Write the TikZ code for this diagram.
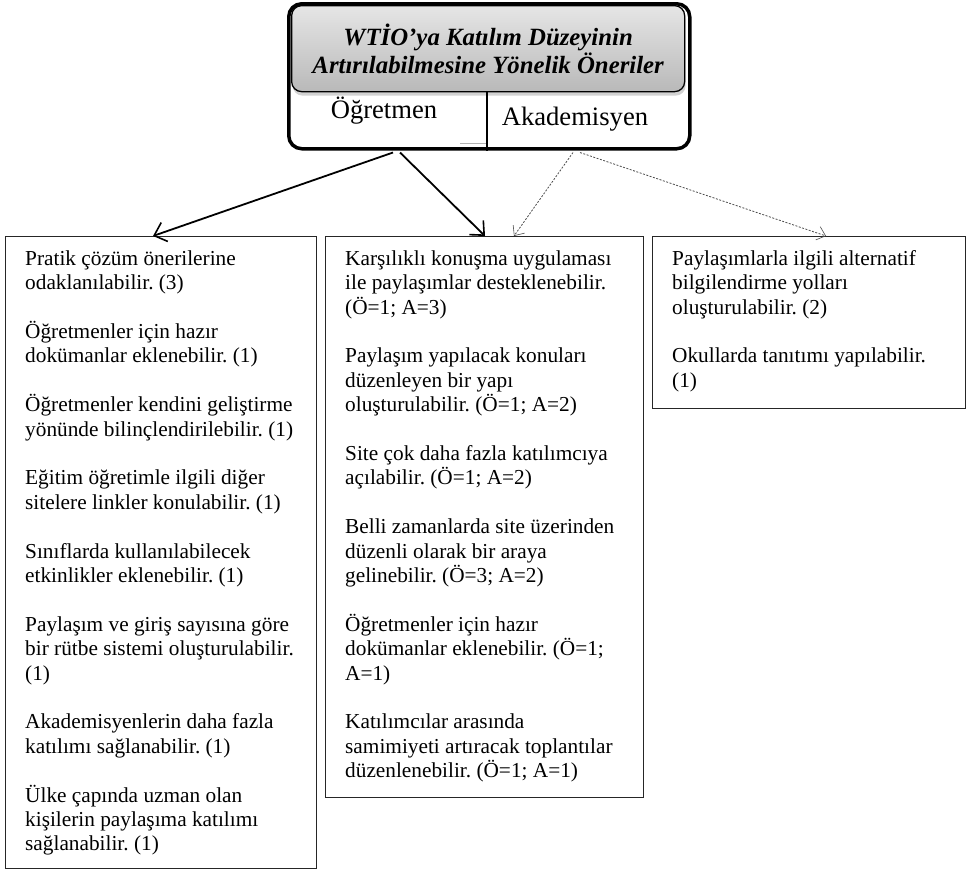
\documentclass[tikz,border=0pt]{standalone}
\usepackage{fontspec}
\setmainfont{Liberation Serif}
\usetikzlibrary{arrows.meta,shadows,calc}
\frenchspacing
\begin{document}
\begin{tikzpicture}[x=1pt,y=-1pt,
  box/.style={draw=black!85, line width=1pt, rectangle, anchor=north west, inner sep=0pt},
  body/.style={anchor=north west, inner sep=0pt, align=left, font=\frenchspacing\fontsize{21.3}{24.4}\selectfont},
  solidarr/.style={line width=1.8pt, -{Straight Barb[length=11pt,width=20pt,line width=1.6pt]}},
  dotarr/.style={line width=0.8pt, draw=gray!60!black, dash pattern=on 2pt off 1.5pt, -{Straight Barb[length=8pt,width=14pt,line width=0.6pt]}},
  labeltxt/.style={anchor=base, inner sep=0pt, font=\fontsize{26.6}{30}\selectfont}
]
\useasboundingbox (0,0) rectangle (974,871);

% header
\node[draw, line width=3.5pt, rounded corners=13pt, minimum width=401pt, minimum height=145pt,
      anchor=north west, inner sep=0pt] (hdr) at (287,2) {};
\node[draw, line width=1.3pt, rounded corners=10pt, top color=gray!20, bottom color=gray!55,
      drop shadow={shadow xshift=1pt, shadow yshift=-4pt, fill=gray!70},
      minimum width=393pt, minimum height=86pt, anchor=north west, inner sep=0pt, align=center,
      font=\bfseries\itshape\fontsize{24.8}{28.5}\selectfont] (title) at (291,5)
      {WTİO’ya Katılım Düzeyinin\\Artırılabilmesine Yönelik Öneriler};
\coordinate (div) at (487,0);
\draw[line width=1.3pt] (title.south -| div) -- (hdr.south -| div);
\draw[gray!60, line width=1pt] (460,143) -- (486,143);
\node[labeltxt] (ogr) at (384,118.6) {Öğretmen};
\node[labeltxt] (aka) at (575,125) {Akademisyen};

% boxes
\node[box, minimum width=311pt, minimum height=632pt] (b1) at (5,236) {};
\node[box, minimum width=318pt, minimum height=561pt] (b2) at (325,236) {};
\node[box, minimum width=313pt, minimum height=172pt] (b3) at (652,236) {};

\node[body] (t1) at (25,248) {\strut Pratik çözüm önerilerine\\odaklanılabilir. (3)\\[24.4pt]
Öğretmenler için hazır\\dokümanlar eklenebilir. (1)\\[24.4pt]
Öğretmenler kendini geliştirme\\yönünde bilinçlendirilebilir. (1)\\[24.4pt]
Eğitim öğretimle ilgili diğer\\sitelere linkler konulabilir. (1)\\[24.4pt]
Sınıflarda kullanılabilecek\\etkinlikler eklenebilir. (1)\\[24.4pt]
Paylaşım ve giriş sayısına göre\\bir rütbe sistemi oluşturulabilir.\\(1)\\[24.4pt]
Akademisyenlerin daha fazla\\katılımı sağlanabilir. (1)\\[24.4pt]
Ülke çapında uzman olan\\kişilerin paylaşıma katılımı\\sağlanabilir. (1)};

\node[body] (t2) at (345,248) {\strut Karşılıklı konuşma uygulaması\\ile paylaşımlar desteklenebilir.\\(Ö=1; A=3)\\[24.4pt]
Paylaşım yapılacak konuları\\düzenleyen bir yapı\\oluşturulabilir. (Ö=1; A=2)\\[24.4pt]
Site çok daha fazla katılımcıya\\açılabilir. (Ö=1; A=2)\\[24.4pt]
Belli zamanlarda site üzerinden\\düzenli olarak bir araya\\gelinebilir. (Ö=3; A=2)\\[24.4pt]
Öğretmenler için hazır\\dokümanlar eklenebilir. (Ö=1;\\A=1)\\[24.4pt]
Katılımcılar arasında\\samimiyeti artıracak toplantılar\\düzenlenebilir. (Ö=1; A=1)};

\node[body] (t3) at (672,248) {\strut Paylaşımlarla ilgili alternatif\\bilgilendirme yolları\\oluşturulabilir. (2)\\[24.4pt]
Okullarda tanıtımı yapılabilir.\\(1)};

% arrows
\draw[solidarr] ($(hdr.south west)+(106,2)$) -- ($(b1.north west)+(148,0)$);
\draw[solidarr] ($(hdr.south west)+(113,2)$) -- ($(b2.north west)+(160,0)$);
\draw[dotarr] ($(hdr.south west)+(286,2)$) -- ($(b2.north west)+(189,0)$);
\draw[dotarr] ($(hdr.south west)+(293,2)$) -- ($(b3.north west)+(174,0)$);
\end{tikzpicture}
\end{document}
